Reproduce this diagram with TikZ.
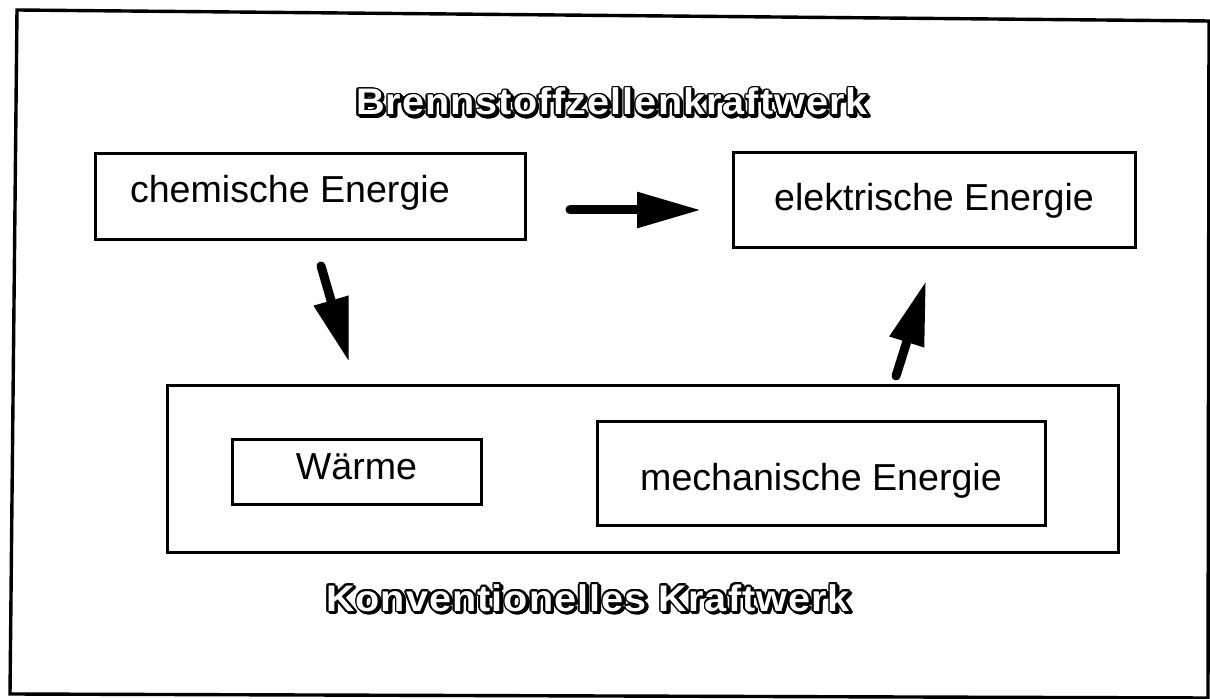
\documentclass[tikz,border=0pt]{standalone}
\usepackage{fontspec}
\usepackage{graphicx}
\usepackage[copies]{contour}
\setmainfont{Liberation Sans}
\newfontfamily\headfont[LetterSpace=2.7]{Liberation Sans}
\usetikzlibrary{arrows.meta}
\contourlength{0.75pt}
\contournumber{16}
% hollow lettering with a drop shadow: a solid outlined copy shifted
% down and right, then white glyphs with a black contour on top
\newcommand{\hollow}[1]{\scalebox{1.07}[1]{%
  \rlap{\hspace{0.9pt}\raisebox{-0.9pt}{\contour{black}{#1}}}%
  \textcolor{white}{\contour{black}{#1}}}}
\begin{document}
\begin{tikzpicture}[x=0.5pt,y=-0.5pt,
  box/.style={draw=black, line width=1.5pt, inner sep=0pt,
    font=\fontsize{18.8}{22}\selectfont},
  bigarrow/.style={line width=4.5pt, line cap=round,
    -{Triangle[length=32pt,width=17pt]}},
  heading/.style={anchor=base, inner sep=0pt,
    font=\headfont\bfseries\fontsize{18.5}{20}\selectfont}]
\useasboundingbox (0,0) rectangle (1210,699);

% outer frame
\draw[line width=1.7pt] (17,10) -- (1209,21) -- (1208,698) -- (10,694) -- cycle;

% headings
\node[heading] (bz) at (612,115) {\hollow{Brennstoffzellenkraftwerk}};
\node[heading] (kk) at (588,611) {\hollow{Konventionelles Kraftwerk}};

% energy forms
\node[box, minimum width=215pt, minimum height=43pt, inner xsep=17.5pt,
  text height=13pt, text depth=7pt]
  (chem) at (310,197) {\makebox[180pt][l]{chemische Energie}};
\node[box, minimum width=201pt, minimum height=47.5pt,
  text height=14pt, text depth=3.5pt]
  (elek) at (934,200.5) {elektrische Energie};
\node[box, minimum width=475.5pt, minimum height=83.5pt]
  (konv) at (642.5,469.5) {};
\node[box, minimum width=124.5pt, minimum height=32.5pt,
  text height=13pt, text depth=5.5pt]
  (waerme) at (356.5,472.5) {Wärme};
\node[box, minimum width=224pt, minimum height=52pt,
  text height=17pt, text depth=0pt]
  (mech) at (821,474) {mechanische Energie};

% conversion paths
\coordinate (direct0) at (570,210);
\coordinate (direct1) at (701,210);
\coordinate (down0) at (321,266);
\coordinate (down1) at (349,362);
\coordinate (up0) at (896,376);
\coordinate (up1) at (926,281);
\draw[bigarrow] (direct0) -- (direct1);
\draw[bigarrow] (down0) -- (down1);
\draw[bigarrow] (up0) -- (up1);
\end{tikzpicture}
\end{document}
